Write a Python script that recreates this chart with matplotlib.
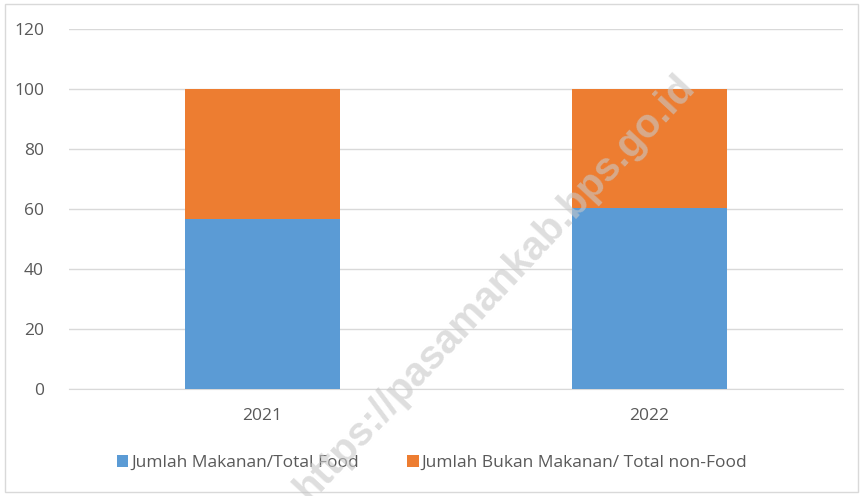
import matplotlib.pyplot as plt
from matplotlib.patches import Rectangle

years = ["2021", "2022"]
food = [56.6, 60.5]
non_food = [43.4, 39.5]
labels = ["Jumlah Makanan/Total Food", "Jumlah Bukan Makanan/ Total non-Food"]
blue = "#5b9bd5"
orange = "#ed7d31"

plt.rcParams['font.family'] = ['Open Sans', 'DejaVu Sans']

fig = plt.figure(figsize=(8.64, 4.96), dpi=100)
ax = fig.add_axes([69/864, 1 - 389/496, (843-69)/864, (389-29)/496])

x = range(len(years))
ax.bar(x, food, width=0.4, color=blue, label=labels[0], zorder=3)
ax.bar(x, non_food, width=0.4, bottom=food, color=orange, label=labels[1], zorder=3)

ax.set_xlim(-0.5, 1.5)
ax.set_ylim(0, 120)
ax.set_yticks(range(0, 121, 20))
ax.set_xticks(list(x))
ax.set_xticklabels(years)
ax.grid(axis='y', color='#d9d9d9', linewidth=1, zorder=0)
for s in ['top', 'right', 'left']:
    ax.spines[s].set_visible(False)
ax.spines['bottom'].set_color('#d9d9d9')
ax.tick_params(length=0, labelsize=12.5, colors='#595959')
ax.tick_params(axis='x', pad=14)
ax.tick_params(axis='y', pad=18)

fig.legend(loc='center', bbox_to_anchor=(0.5, 1 - 463/496), ncol=2, frameon=False,
           fontsize=12.5, handlelength=0.65, handleheight=0.65, handletextpad=0.15,
           columnspacing=2.8, labelcolor='#595959')

# chart border
fig.patches.append(Rectangle((5/864, 4/496), 853/864, 488/496, transform=fig.transFigure,
                             fill=False, edgecolor='#d9d9d9', linewidth=1))

# watermark
fig.text(495/864, 1 - 288/496, "https://pasamankab.bps.go.id", rotation=47,
         ha='center', va='center', fontsize=29, fontweight='bold', color='#c8c8c8',
         alpha=0.6, family=['Liberation Sans', 'DejaVu Sans'], zorder=10)

fig.savefig("out.png", dpi=100)
